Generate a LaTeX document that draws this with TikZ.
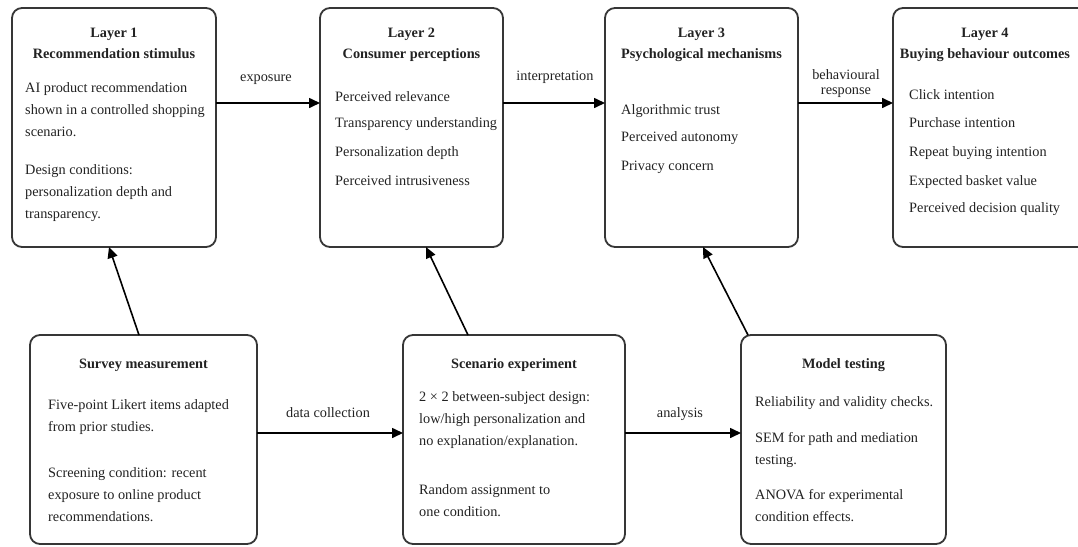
\documentclass[tikz,border=0pt]{standalone}
\usepackage{fontspec}
\setmainfont{Liberation Serif}
\usetikzlibrary{arrows.meta}
\definecolor{boxc}{HTML}{363636}
\definecolor{txt}{HTML}{222222}
\begin{document}
\begin{tikzpicture}[x=1pt,y=-1pt,
  box/.style={draw=boxc, line width=1.8pt, rounded corners=10pt, anchor=north west, inner sep=0pt, outer sep=0pt},
  ttl/.style={font=\bfseries\fontsize{14.3}{21}\selectfont, align=center, anchor=base, inner sep=0pt, text=txt},
  body/.style={font=\fontsize{14.3}{21.8}\selectfont, align=left, anchor=base west, inner sep=0pt, text=txt},
  lab/.style={font=\fontsize{14.3}{15}\selectfont, align=center, anchor=base, inner sep=0pt, text=txt},
  arr/.style={draw=black, line width=1.6pt, -{Triangle[length=11pt,width=10pt]}}]
\useasboundingbox (0,0) rectangle (1078,546);

% boxes
\node[box, minimum width=204pt, minimum height=239pt] (L1) at (12,8) {};
\node[box, minimum width=183pt, minimum height=239pt] (L2) at (320,8) {};
\node[box, minimum width=193pt, minimum height=239pt] (L3) at (605,8) {};
\node[box, minimum width=215pt, minimum height=239pt] (L4) at (893,8) {};
\node[box, minimum width=227pt, minimum height=209pt] (S) at (30,335) {};
\node[box, minimum width=222pt, minimum height=209pt] (E) at (403,335) {};
\node[box, minimum width=205pt, minimum height=209pt] (M) at (741,335) {};

% titles (base = last line)
\node[ttl] (t1) at (114,58) {Layer 1\\Recommendation stimulus};
\node[ttl] (t2) at (411.5,58) {Layer 2\\Consumer perceptions};
\node[ttl] (t3) at (701.5,58) {Layer 3\\Psychological mechanisms};
\node[ttl] (t4) at (985,58) {Layer 4\\Buying behaviour outcomes};
\node[ttl] (ts) at (143.5,368) {Survey measurement};
\node[ttl] (te) at (514,368) {Scenario experiment};
\node[ttl] (tm) at (843.5,368) {Model testing};

% Layer 1 body
\node[body] (b11) at (25,136.1) {AI product recommendation\\shown in a controlled shopping\\scenario.};
\node[body] (b12) at (25,218.1) {Design conditions:\\personalization depth and\\transparency.};
% Layer 2 body
\node[body] (b21) at (335,101.5) {Perceived relevance};
\node[body] (b22) at (335,127.5) {Transparency understanding};
\node[body] (b23) at (335,156.5) {Personalization depth};
\node[body] (b24) at (335,185.5) {Perceived intrusiveness};
% Layer 3 body
\node[body] (b31) at (621,114.5) {Algorithmic trust};
\node[body] (b32) at (621,141.5) {Perceived autonomy};
\node[body] (b33) at (621,170.5) {Privacy concern};
% Layer 4 body
\node[body] (b41) at (909,99.5) {Click intention};
\node[body] (b42) at (909,127.5) {Purchase intention};
\node[body] (b43) at (909,156.5) {Repeat buying intention};
\node[body] (b44) at (909,185.5) {Expected basket value};
\node[body] (b45) at (909,212.5) {Perceived decision quality};
% Survey body
\node[body] (bs1) at (48,431.3) {Five-point Likert items adapted\\from prior studies.};
\node[body] (bs2) at (48,521.1) {Screening condition: recent\\exposure to online product\\recommendations.};
% Scenario body
\node[body] (be1) at (419,445.1) {2 × 2 between-subject design:\\low/high personalization and\\no explanation/explanation.};
\node[body] (be2) at (419,516.3) {Random assignment to\\one condition.};
% Model body
\node[body] (bm1) at (755,406.5) {Reliability and validity checks.};
\node[body] (bm2) at (755,464.3) {SEM for path and mediation\\testing.};
\node[body] (bm3) at (755,521.3) {ANOVA for experimental\\condition effects.};

% horizontal connectors
\draw[arr] ([yshift=24.5pt]L1.east) -- ([yshift=24.5pt]L2.west);
\draw[arr] ([yshift=24.5pt]L2.east) -- ([yshift=24.5pt]L3.west);
\draw[arr] ([yshift=24.5pt]L3.east) -- ([yshift=24.5pt]L3.east -| L4.west);
\draw[arr] ([yshift=6.5pt]S.east) -- ([yshift=6.5pt]E.west);
\draw[arr] ([yshift=6.5pt]E.east) -- ([yshift=6.5pt]M.west);

% connector labels
\node[lab] (x1) at (266,81.5) {exposure};
\node[lab] (x2) at (555,80.5) {interpretation};
\node[lab] (x3) at (846,94.5) {behavioural\\response};
\node[lab] (x4) at (328,417.5) {data collection};
\node[lab] (x5) at (680,417.5) {analysis};

% diagonal connectors
\draw[arr] ([xshift=-4.5pt]S.north) -- ([xshift=-5pt]L1.south);
\draw[arr] ([xshift=-46pt]E.north) -- ([xshift=14.5pt]L2.south);
\draw[arr] ([xshift=-95.5pt]M.north) -- ([xshift=1.5pt]L3.south);
\end{tikzpicture}
\end{document}
